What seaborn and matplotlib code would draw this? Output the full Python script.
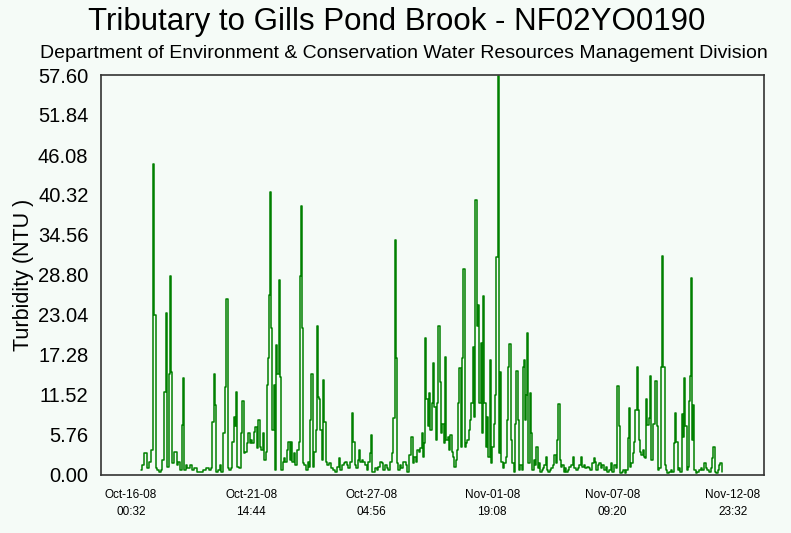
import pandas as pd
import numpy as np
import matplotlib
matplotlib.use('Agg')
import matplotlib.pyplot as plt
import matplotlib.dates as mdates
from matplotlib.ticker import MultipleLocator, FormatStrFormatter
import seaborn as sns

# hours after Oct-16-08 00:32 and turbidity (NTU)
hours = [11.1, 13.7, 16.4, 19.3, 21.2, 23.1, 25.3, 26.4, 28.6, 30.4, 32.3, 34.2, 36.0, 37.9, 39.8,
         41.6, 42.7, 44.2, 45.4, 47.1, 49.8, 52.1, 53.8, 56.5, 57.6, 59.1, 60.2, 62.1, 63.9, 66.9,
         69.4, 71.3, 75.0, 78.8, 82.5, 85.5, 88.1, 89.9, 91.7, 93.3, 94.4, 95.9, 98.1, 99.5, 101.8,
         103.7, 105.6, 107.3, 108.9, 110.7, 112.6, 113.7, 115.1, 116.7, 117.8, 119.3, 121.2, 123.4,
         125.2, 126.7, 128.5, 129.6, 131.5, 133.0, 134.5, 136.0, 137.9, 139.7, 141.2, 142.7, 144.6,
         146.3, 147.9, 149.4, 150.8, 151.9, 153.5, 154.6, 156.0, 157.2, 158.3, 159.7, 160.8, 162.4,
         163.8, 165.3, 166.9, 168.3, 169.8, 171.3, 172.8, 174.7, 176.1, 177.6, 179.1, 180.6, 182.5,
         184.2, 186.1, 187.6, 188.7, 189.8, 190.9, 192.5, 194.3, 196.2, 197.6, 199.2, 200.3, 201.7,
         203.2, 205.1, 206.5, 207.6, 208.8, 210.3, 211.8, 213.2, 214.8, 216.2, 217.7, 219.9, 222.1,
         224.4, 226.6, 228.8, 230.4, 232.6, 234.1, 236.3, 237.7, 240.0, 241.5, 243.3, 245.2, 247.1,
         248.6, 250.0, 251.9, 253.3, 254.9, 256.4, 258.3, 260.0, 261.9, 263.8, 265.6, 266.7, 268.3,
         269.7, 271.2, 273.1, 275.0, 276.8, 278.7, 280.5, 282.3, 284.2, 286.1, 287.9, 289.8, 291.7,
         293.1, 294.6, 296.1, 297.3, 298.7, 300.2, 301.7, 304.0, 305.7, 307.3, 309.1, 311.8, 313.5,
         315.1, 316.5, 318.0, 319.9, 321.8, 323.2, 324.7, 326.2, 327.7, 328.8, 329.9, 331.4, 332.9,
         334.4, 335.8, 337.4, 338.8, 340.3, 341.9, 343.3, 344.7, 346.3, 347.8, 349.2, 350.8, 352.2,
         353.7, 355.2, 356.7, 358.1, 359.7, 361.1, 362.6, 364.1, 365.6, 366.7, 368.2, 369.7, 371.2,
         372.6, 374.2, 375.6, 377.1, 378.6, 380.1, 381.5, 383.1, 384.5, 386.0, 387.5, 389.0, 390.4,
         392.0, 393.1, 394.6, 396.0, 397.6, 399.0, 400.5, 402.0, 403.5, 404.9, 406.5, 407.9, 409.4,
         411.0, 412.1, 413.9, 415.4, 416.9, 418.3, 419.9, 421.0, 422.8, 424.3, 425.8, 427.2, 428.8,
         430.2, 431.7, 433.2, 434.7, 436.1, 437.7, 438.8, 439.9, 441.4, 442.5, 443.6, 445.1, 446.6,
         448.1, 449.5, 451.1, 452.5, 454.0, 455.5, 457.0, 458.4, 460.0, 461.4, 462.9, 464.5, 465.9,
         467.4, 469.6, 471.1, 472.9, 474.8, 475.9, 477.1, 478.5, 480.1, 481.5, 483.0, 484.5, 486.0,
         487.9, 489.6, 491.9, 493.4, 495.2, 497.1, 499.0, 500.8, 502.4, 503.8, 505.7, 507.5, 509.4,
         511.3, 513.1, 515.0, 516.4, 518.0, 519.4, 521.3, 523.1, 524.6, 526.4, 528.3, 530.2, 532.0,
         533.9, 535.8, 537.6, 539.5, 541.4, 543.2, 544.7, 546.2, 547.6, 549.2, 551.4, 552.8, 554.3,
         555.4, 557.0, 558.4, 559.9, 561.4, 562.9, 564.3, 565.4, 566.6, 568.1, 569.6, 571.0, 572.6,
         574.0, 574.8, 576.3, 577.7, 579.3, 580.7, 582.2, 583.7, 585.2, 586.6, 588.2, 589.6, 591.1,
         592.6, 594.1, 595.5, 597.1, 598.9, 600.8, 602.7, 604.5, 605.6, 607.1, 608.6, 610.0, 611.6,
         613.0, 614.5, 616.0, 617.5, 618.6, 620.0, 621.6, 622.7, 623.8, 625.0, 626.4, 627.5, 628.6,
         630.5, 632.3, 634.2, 636.1, 637.9, 639.8, 641.7, 643.5, 645.4, 647.3, 648.7, 649.8, 651.3,
         653.2, 654.6, 656.2, 658.0, 659.1]

ntu = [0.72, 1.44, 3.12, 0.96, 1.92, 3.6, 44.8, 23.0, 0.96, 0.72, 0.48, 0.72, 2.16, 11.9, 23.4,
       1.2, 14.6, 28.6, 14.9, 1.68, 3.26, 1.44, 1.92, 0.72, 7.2, 14.0, 0.72, 1.44, 0.96, 1.44,
       0.72, 0.96, 0.48, 0.48, 0.72, 0.96, 0.72, 0.96, 7.7, 14.6, 10.1, 0.48, 0.72, 1.44, 0.48,
       6.0, 12.7, 25.4, 0.96, 0.72, 0.96, 4.8, 8.4, 7.0, 11.9, 1.2, 0.96, 6.0,
       10.6, 3.12, 3.36, 4.56, 6.0, 4.56, 5.04, 4.56, 6.24, 6.96, 3.84, 7.9, 4.08,
       3.6, 6.0, 2.16, 3.36, 13.0, 16.8, 25.9, 40.7, 21.1, 6.5, 13.0, 0.72, 18.7,
       14.6, 28.1, 14.1, 0.72, 1.92, 2.4, 1.92, 3.6, 4.8, 2.16, 4.8, 1.92, 3.12,
       1.44, 3.6, 4.8, 28.6, 38.8, 21.1, 1.68, 1.44, 0.72, 1.92, 1.2, 7.9, 14.6,
       1.2, 3.36, 6.5, 21.5, 11.3, 11.0, 6.5, 2.16, 13.7, 7.7, 1.92, 1.44, 1.68,
       0.96, 0.72, 0.48, 1.2, 2.4, 0.72, 1.44, 1.68, 1.92, 1.44, 0.96, 1.92, 8.9,
       4.8, 1.44, 0.96, 2.16, 3.6, 1.92, 2.16, 1.92, 1.44, 0.72, 1.92, 3.12, 5.8,
       0.48, 0.48, 0.96, 0.72, 1.2, 1.92, 1.68, 0.72, 1.44, 0.96, 0.72, 1.92, 3.12,
       8.2, 33.9, 16.8, 1.68, 0.72, 1.44, 0.96, 1.92, 1.92, 1.44, 0.48, 2.88, 5.5,
       1.68, 2.64, 1.92, 3.6, 3.36, 3.84, 6.0, 2.64, 4.56, 19.7, 11.0, 7.0, 11.8,
       6.5, 10.3, 16.1, 9.8, 5.0, 10.3, 21.4, 13.4, 6.0, 7.4, 4.56, 17.0, 5.04,
       5.5, 3.6, 5.8, 3.36, 2.64, 1.2, 2.16, 3.6, 10.3, 15.4, 4.08, 16.8, 29.6,
       4.08, 4.56, 5.04, 6.5, 7.9, 10.3, 18.5, 8.4, 39.6, 21.4, 24.5, 10.3, 19.0,
       6.0, 25.8, 10.3, 4.08, 8.4, 2.64, 16.6, 1.68, 4.08, 7.4, 11.5, 31.4, 57.5,
       3.1, 14.8, 1.92, 0.96, 1.68, 2.64, 7.9, 15.6, 18.8, 5.0, 1.68, 0.48, 7.4,
       15.0, 7.9, 0.72, 1.44, 0.72, 15.6, 16.6, 7.9, 11.5, 20.4, 1.68, 11.8, 6.0,
       0.72, 2.16, 1.44, 4.1, 0.96, 1.68, 0.48, 0.72, 0.96, 1.44, 2.64, 0.72, 0.48,
       0.72, 0.96, 1.44, 2.88, 1.68, 5.0, 10.2, 2.16, 1.2, 1.44, 0.48, 0.96, 0.48,
       0.72, 1.2, 1.44, 2.64, 0.96, 0.72, 0.96, 1.44, 2.64, 1.2, 1.44, 0.96, 1.2,
       0.96, 0.72, 1.68, 2.4, 1.92, 0.72, 1.44, 1.68, 0.96, 1.44, 0.72, 1.2, 0.48,
       0.72, 1.68, 0.48, 1.44, 0.96, 12.8, 7.0, 0.24, 0.48, 0.72, 0.24, 0.72, 5.3,
       9.6, 1.2, 1.68, 3.12, 4.8, 9.4, 15.5, 9.4, 5.0, 3.36, 2.88, 3.6, 2.64,
       2.4, 10.9, 7.2, 8.2, 14.2, 2.16, 7.4, 7.4, 13.6, 7.0, 0.72, 0.96, 15.6,
       31.6, 15.6, 1.44, 0.72, 0.24, 0.48, 0.72, 0.48, 4.56, 9.0, 4.8, 0.72, 0.96,
       0.48, 8.8, 5.5, 14.0, 7.0, 0.72, 1.2, 10.6, 14.2, 28.3, 5.0, 10.1, 0.72,
       0.24, 0.48, 0.72, 0.96, 0.72, 1.68, 0.96, 0.72, 0.48, 0.96, 2.4, 4.1, 0.48,
       0.24, 0.72, 1.44, 1.8, 0.5]

y_ticks = [0.00, 5.76, 11.52, 17.28, 23.04, 28.80, 34.56, 40.32, 46.08, 51.84, 57.60]
start = pd.Timestamp('2008-10-16 00:32')
tick_step = pd.Timedelta(days=5, hours=14, minutes=12)

df = pd.DataFrame({'time': start + pd.to_timedelta(hours, unit='h'), 'ntu': ntu})

bg = '#f5fbf7'
sns.set_style('white')
plt.rcParams['font.family'] = ['Liberation Sans', 'DejaVu Sans']
plt.rcParams['text.color'] = 'black'
plt.rcParams['axes.labelcolor'] = 'black'
plt.rcParams['xtick.color'] = 'black'
plt.rcParams['ytick.color'] = 'black'

fig = plt.figure(figsize=(7.91, 5.33), dpi=100, facecolor=bg)
ax = fig.add_axes([101 / 791, 58 / 533, 663 / 791, 400 / 533])
ax.set_facecolor(bg)

sns.lineplot(data=df, x='time', y='ntu', ax=ax, color='#008000', linewidth=1.1,
             drawstyle='steps-mid', errorbar=None)

ax.set_ylim(0, 57.6)
ax.set_yticks(y_ticks)
ax.yaxis.set_major_formatter(FormatStrFormatter('%.2f'))
ax.yaxis.set_minor_locator(MultipleLocator(2.88))

xticks = [start + i * tick_step for i in range(6)]
ax.set_xticks(xticks)
ax.set_xticklabels([t.strftime('%b-%d-%y') + '\n' + t.strftime('%H:%M') for t in xticks])
ax.set_xlim(start - pd.Timedelta(hours=33.4), start + pd.Timedelta(hours=705.6))

ax.tick_params(axis='y', which='major', direction='out', length=8, width=1, labelsize=14.5,
               color='#222222', pad=1)
ax.tick_params(axis='y', which='minor', direction='out', length=4.5, width=1, color='#222222')
ax.tick_params(axis='x', which='major', direction='in', length=8.5, width=1, labelsize=8.5,
               color='#222222', pad=10)
for lab in ax.get_xticklabels():
    lab.set_linespacing(1.6)

for s in ax.spines.values():
    s.set_color('#333333')
    s.set_linewidth(1.2)

ax.set_xlabel('')
ax.set_ylabel('Turbidity (NTU )', fontsize=15.5, labelpad=3)

fig.text(0.502, 1 - 22 / 533, 'Tributary to Gills Pond Brook - NF02YO0190',
         ha='center', va='center', fontsize=22.5)
fig.text(0.51, 1 - 53 / 533,
         'Department of Environment & Conservation Water Resources Management Division',
         ha='center', va='center', fontsize=14)

fig.savefig('out.png', dpi=100, facecolor=bg)
